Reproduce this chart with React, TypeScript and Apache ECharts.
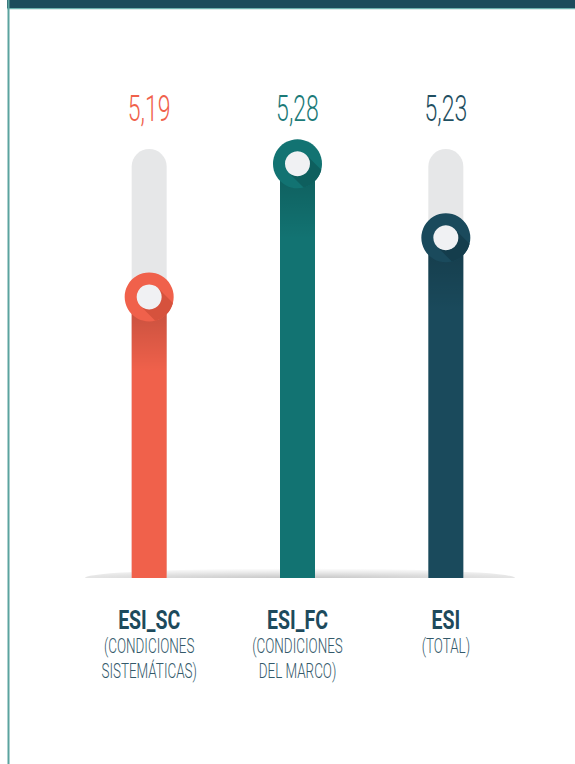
import React, { useEffect, useRef } from 'react';
import * as echarts from 'echarts';

const categories = ['ESI_SC', 'ESI_FC', 'ESI'];
const subtitles = [['(CONDICIONES', 'SISTEMÁTICAS)'], ['(CONDICIONES', 'DEL MARCO)'], ['(TOTAL)']];
const values = [5.19, 5.28, 5.23];
const valueLabels = ['5,19', '5,28', '5,23'];
const barColors = ['#f0614b', '#127372', '#1a4a5c'];
const shadeColors = ['#d6523d', '#0e5f5e', '#143d4c'];
const labelColors = ['#f0614b', '#1b7a78', '#1f4f61'];
const axisMin = 5.0;
const axisMax = 5.29;

const BAR_W = 35;
const RING_R = 24.5;
const INNER_R = 12.5;

function shadowPolygon(cx: number, cy: number) {
  const pts: number[][] = [];
  const d = Math.PI / 4;
  const off = Math.asin(INNER_R / RING_R);
  pts.push([cx + INNER_R * Math.cos(d - Math.PI / 2), cy + INNER_R * Math.sin(d - Math.PI / 2)]);
  const n = 12;
  for (let i = 0; i <= n; i++) {
    const a = d - off + (2 * off * i) / n;
    pts.push([cx + RING_R * Math.cos(a), cy + RING_R * Math.sin(a)]);
  }
  pts.push([cx + INNER_R * Math.cos(d + Math.PI / 2), cy + INNER_R * Math.sin(d + Math.PI / 2)]);
  return pts;
}

export default function App() {
  const ref = useRef<HTMLDivElement>(null);
  useEffect(() => {
    document.body.style.margin = '0';
    document.body.style.overflow = 'hidden';
    const chart = echarts.init(ref.current!, undefined, { renderer: 'svg' });
    const option: any = {
      animation: false,
      backgroundColor: '#ffffff',
      grid: { left: 75, right: 55, top: 149, bottom: 186 },
      xAxis: {
        type: 'category',
        data: categories,
        axisLine: { show: false },
        axisTick: { show: false },
        axisLabel: { show: false },
      },
      yAxis: { type: 'value', min: axisMin, max: axisMax, show: false, splitLine: { show: false } },
      graphic: [
        { type: 'rect', z: 0, shape: { x: 7, y: 0, width: 568, height: 8 }, style: { fill: '#1c4c5c' } },
        { type: 'rect', z: 0, shape: { x: 7, y: 8, width: 568, height: 1.3 }, style: { fill: '#6bb0ad' } },
        { type: 'rect', z: 0, shape: { x: 7.5, y: 0, width: 2, height: 764 }, style: { fill: '#5ba39f' } },
        {
          type: 'sector',
          z: 0,
          x: 300,
          y: 578,
          scaleY: 0.045,
          shape: { cx: 0, cy: 0, r0: 0, r: 215, startAngle: Math.PI, endAngle: Math.PI * 2 },
          style: {
            fill: {
              type: 'radial', x: 0.5, y: 1, r: 1,
              colorStops: [
                { offset: 0, color: 'rgba(0,0,0,0.22)' },
                { offset: 0.6, color: 'rgba(0,0,0,0.08)' },
                { offset: 1, color: 'rgba(0,0,0,0)' },
              ],
            },
          },
        },
      ],
      series: [
        {
          type: 'custom',
          z: 5,
          data: values.map((v, i) => [i, v]),
          renderItem: (params: any, api: any) => {
            const i = api.value(0);
            const v = api.value(1);
            const top = api.coord([i, v]);
            const base = api.coord([i, axisMin]);
            const trackTop = api.coord([i, axisMax]);
            const cx = top[0];
            const cy = top[1];
            const subs = subtitles[i].map((s, k) => ({
              type: 'text',
              x: cx,
              y: base[1] + 68 + k * 25,
              scaleX: 0.64,
              style: {
                x: 0,
                y: 0,
                text: s,
                fill: '#33596a',
                font: '300 21px Roboto, sans-serif',
                align: 'center',
                verticalAlign: 'middle',
              },
            }));
            return {
              type: 'group',
              children: [
                {
                  type: 'rect',
                  shape: { x: cx - BAR_W / 2, y: trackTop[1], width: BAR_W, height: base[1] - trackTop[1], r: [BAR_W / 2, BAR_W / 2, 0, 0] },
                  style: { fill: '#e6e7e8' },
                },
                {
                  type: 'rect',
                  shape: { x: cx - BAR_W / 2, y: cy, width: BAR_W, height: base[1] - cy },
                  style: { fill: barColors[i] },
                },
                {
                  type: 'rect',
                  shape: { x: cx - BAR_W / 2, y: cy, width: BAR_W, height: 75 },
                  style: {
                    fill: {
                      type: 'linear', x: 0, y: 0, x2: 0, y2: 1,
                      colorStops: [
                        { offset: 0, color: 'rgba(0,0,0,0.2)' },
                        { offset: 1, color: 'rgba(0,0,0,0)' },
                      ],
                    },
                  },
                },
                { type: 'circle', shape: { cx, cy, r: RING_R }, style: { fill: barColors[i] } },
                { type: 'polygon', shape: { points: shadowPolygon(cx, cy) }, style: { fill: shadeColors[i] } },
                { type: 'circle', shape: { cx, cy, r: INNER_R }, style: { fill: '#f0f1f3' } },
                {
                  type: 'text',
                  x: cx,
                  y: trackTop[1] - 41,
                  scaleX: 0.64,
                  style: {
                    x: 0,
                    y: 0,
                    text: valueLabels[i],
                    fill: labelColors[i],
                    font: '300 36px Roboto, sans-serif',
                    align: 'center',
                    verticalAlign: 'middle',
                  },
                },
                {
                  type: 'text',
                  x: cx,
                  y: base[1] + 42,
                  scaleX: 0.78,
                  style: {
                    x: 0,
                    y: 0,
                    text: categories[i],
                    fill: '#1d4a5c',
                    font: 'bold 25px Roboto, sans-serif',
                    align: 'center',
                    verticalAlign: 'middle',
                  },
                },
                ...subs,
              ],
            };
          },
        },
      ],
    };
    chart.setOption(option);
    return () => chart.dispose();
  }, []);
  return <div ref={ref} style={{ width: 575, height: 764 }} />;
}
